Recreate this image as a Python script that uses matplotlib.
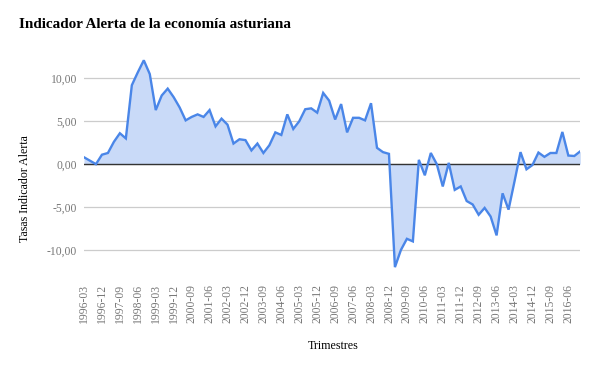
import matplotlib
matplotlib.use("Agg")
import matplotlib.pyplot as plt
import numpy as np

title = "Indicador Alerta de la economía asturiana"
ylabel = "Tasas Indicador Alerta"
xlabel = "Trimestres"

# Quarterly values, 1996-03 .. 2016-12
values = [
    0.8, 0.4, 0.0, 1.1, 1.3, 2.6, 3.6, 3.0, 9.2, 10.7,
    12.1, 10.5, 6.3, 8.0, 8.8, 7.8, 6.6, 5.1, 5.5, 5.8,
    5.5, 6.3, 4.4, 5.3, 4.6, 2.4, 2.9, 2.8, 1.6, 2.4,
    1.3, 2.2, 3.7, 3.4, 5.8, 4.1, 5.0, 6.4, 6.5, 6.0,
    8.3, 7.4, 5.2, 7.0, 3.7, 5.4, 5.4, 5.1, 7.1, 1.9,
    1.4, 1.2, -12.0, -10.0, -8.7, -9.0, 0.5, -1.3, 1.3, 0.0,
    -2.6, 0.15, -3.0, -2.6, -4.3, -4.7, -5.9, -5.1, -6.1, -8.3,
    -3.4, -5.3, -2.0, 1.4, -0.6, -0.1, 1.35, 0.85, 1.3, 1.3,
    3.75, 1.0, 0.95, 1.5,
]

tick_labels = [
    "1996-03", "1996-12", "1997-09", "1998-06", "1999-03", "1999-12",
    "2000-09", "2001-06", "2002-03", "2002-12", "2003-09", "2004-06",
    "2005-03", "2005-12", "2006-09", "2007-06", "2008-03", "2008-12",
    "2009-09", "2010-06", "2011-03", "2011-12", "2012-09", "2013-06",
    "2014-03", "2014-12", "2015-09", "2016-06",
]
y_ticks = [-10, -5, 0, 5, 10]
y_tick_labels = ["-10,00", "-5,00", "0,00", "5,00", "10,00"]

plt.rcParams['font.family'] = ['Liberation Serif', 'DejaVu Serif']

fig = plt.figure(figsize=(6.0, 3.71), dpi=100)
W, H = 600, 371
left, right, top, bottom = 84, 580.3, 44, 280
ax = fig.add_axes([left / W, 1 - bottom / H, (right - left) / W, (bottom - top) / H])

x = np.arange(len(values))
y = np.array(values)

line_color = "#4a86e8"
ax.fill_between(x, 0, y, color="#c9daf8", linewidth=0, zorder=1)
ax.plot(x, y, color=line_color, linewidth=1.7, zorder=3, solid_joinstyle="miter")
ax.axhline(0, color="#333333", linewidth=1.0, zorder=2)

ax.set_xlim(0, len(values) - 1)
ax.set_ylim(-13.5, 14.0)

ax.set_yticks(y_ticks)
ax.set_yticklabels(y_tick_labels)
ax.set_xticks(np.arange(0, len(values), 3)[:len(tick_labels)])
ax.set_xticklabels(tick_labels, rotation=90)

ax.grid(axis="y", color="#cccccc", linewidth=0.9, zorder=0)
ax.set_axisbelow(True)
for s in ax.spines.values():
    s.set_visible(False)
ax.tick_params(axis="both", length=0, colors="#777777", labelsize=8.4)
ax.tick_params(axis="x", pad=3)
ax.tick_params(axis="y", pad=5)

fig.text(19 / W, 1 - 25 / H, title, fontsize=10.9, fontweight="bold",
         ha="left", va="center", color="black")
fig.text(25 / W, 1 - 189 / H, ylabel, fontsize=8.6, rotation=90,
         ha="center", va="center", color="black")
fig.text(333 / W, 1 - 346 / H, xlabel, fontsize=8.6,
         ha="center", va="center", color="black")

fig.savefig("out.png", dpi=100)
